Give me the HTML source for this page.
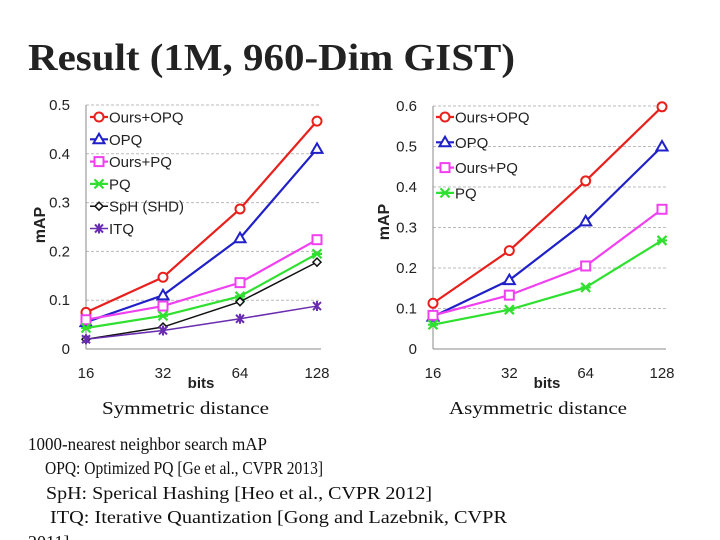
<!DOCTYPE html>
<html><head><meta charset="utf-8"><style>
html,body{margin:0;padding:0;background:#fff;}
svg{display:block}
</style></head><body>
<svg id="s" width="720" height="540" viewBox="0 0 720 540" xmlns="http://www.w3.org/2000/svg">
<text x="28" y="70" font-family="Liberation Serif, serif" font-weight="bold" font-size="38" fill="#222" textLength="487" lengthAdjust="spacingAndGlyphs">Result (1M, 960-Dim GIST)</text>
<g font-family="Liberation Serif, serif" font-size="18" fill="#111">
<text x="102" y="414" textLength="167" lengthAdjust="spacingAndGlyphs">Symmetric distance</text>
<text x="449" y="414" textLength="178" lengthAdjust="spacingAndGlyphs">Asymmetric distance</text>
<text x="28" y="450" textLength="239" lengthAdjust="spacingAndGlyphs">1000-nearest neighbor search mAP</text>
<text x="45" y="474" textLength="278" lengthAdjust="spacingAndGlyphs">OPQ: Optimized PQ [Ge et al., CVPR 2013]</text>
<text x="46" y="499" textLength="386" lengthAdjust="spacingAndGlyphs">SpH: Sperical Hashing [Heo et al., CVPR 2012]</text>
<text x="50" y="523" textLength="457" lengthAdjust="spacingAndGlyphs">ITQ: Iterative Quantization [Gong and Lazebnik, CVPR</text>
<text x="28" y="548">2011]</text>
</g>
<g id="c1"></g>
<g id="c2"></g>
</svg>
<script>
const categories = ["16","32","64","128"];
const leftNames = ["Ours+OPQ","OPQ","Ours+PQ","PQ","SpH (SHD)","ITQ"];
const leftOursOPQ = [0.075,0.147,0.287,0.467];
const leftOPQ = [0.055,0.110,0.227,0.410];
const leftOursPQ = [0.060,0.088,0.136,0.224];
const leftPQ = [0.043,0.068,0.108,0.195];
const leftSpH = [0.020,0.045,0.097,0.178];
const leftITQ = [0.020,0.038,0.062,0.088];
const leftTicks = ["0","0.1","0.2","0.3","0.4","0.5"];
const rightNames = ["Ours+OPQ","OPQ","Ours+PQ","PQ"];
const rightOursOPQ = [0.113,0.243,0.415,0.598];
const rightOPQ = [0.080,0.170,0.315,0.500];
const rightOursPQ = [0.083,0.133,0.205,0.345];
const rightPQ = [0.060,0.097,0.152,0.268];
const rightTicks = ["0","0.1","0.2","0.3","0.4","0.5","0.6"];

const NS="http://www.w3.org/2000/svg";
function mk(p,tag,at){const e=document.createElementNS(NS,tag);for(const k in at)e.setAttribute(k,at[k]);p.appendChild(e);return e;}
const styles={
 "Ours+OPQ":{c:"#e8201c",m:"circle"},"OPQ":{c:"#2020c8",m:"tri"},"Ours+PQ":{c:"#f040f0",m:"square"},
 "PQ":{c:"#30e030",m:"x"},"SpH (SHD)":{c:"#111",m:"diamond",w:1.5},"ITQ":{c:"#6a2cb0",m:"star",w:1.5}};
function marker(g,m,x,y,c){
 let e;
 if(m==="circle")e=mk(g,"circle",{cx:x,cy:y,r:4.5,fill:"#fff",stroke:c,"stroke-width":2});
 else if(m==="tri")e=mk(g,"polygon",{points:`${x},${y-5.5} ${x+5.5},${y+4} ${x-5.5},${y+4}`,fill:"#fff",stroke:c,"stroke-width":2});
 else if(m==="square")e=mk(g,"rect",{x:x-4.5,y:y-4.5,width:9,height:9,fill:"#fff",stroke:c,"stroke-width":2});
 else if(m==="diamond")e=mk(g,"polygon",{points:`${x},${y-4} ${x+4},${y} ${x},${y+4} ${x-4},${y}`,fill:"#fff",stroke:c,"stroke-width":1.5});
 else if(m==="x")e=mk(g,"path",{d:`M${x-4.5},${y-4.5}L${x+4.5},${y+4.5}M${x-4.5},${y+4.5}L${x+4.5},${y-4.5}M${x-5},${y}L${x+5},${y}`,stroke:c,"stroke-width":2.2,fill:"none"});
 else e=mk(g,"path",{d:`M${x-4},${y-4}L${x+4},${y+4}M${x-4},${y+4}L${x+4},${y-4}M${x},${y-5}L${x},${y+5}`,stroke:c,"stroke-width":2,fill:"none"});
 
 
}
function chart(g,cfg){
 const yS=v=>cfg.y0-(v/cfg.ymax)*(cfg.y0-cfg.ytop);
 const xS=i=>cfg.x0+i*(cfg.x1-cfg.x0)/(categories.length-1);
 cfg.ticks.forEach((t,i)=>{
  const v=parseFloat(t), y=yS(v);
  if(v>0){const l=mk(g,"line",{x1:cfg.x0,x2:cfg.x1+4,y1:y,y2:y,stroke:"#bbb","stroke-dasharray":"3,2","stroke-width":1});
   }
  const tx=mk(g,"text",{x:cfg.x0-16,y:y+5,"text-anchor":"end","font-family":"Liberation Sans, sans-serif","font-size":15,fill:"#222"});
  tx.textContent=t;
  
 });
 const ax=mk(g,"line",{x1:cfg.x0,x2:cfg.x0,y1:cfg.ytop,y2:cfg.y0,stroke:"#888","stroke-width":1});
 
 const bx=mk(g,"line",{x1:cfg.x0,x2:cfg.x1+4,y1:cfg.y0,y2:cfg.y0,stroke:"#888","stroke-width":1});
 
 categories.forEach((c,i)=>{
  const t=mk(g,"text",{x:xS(i),y:cfg.y0+29,"text-anchor":"middle","font-family":"Liberation Sans, sans-serif","font-size":15,fill:"#222"});
  t.textContent=c;
 });
 const xt=mk(g,"text",{x:cfg.bitsX,y:cfg.y0+39,"text-anchor":"middle","font-family":"Liberation Sans, sans-serif","font-size":15,"font-weight":"bold",fill:"#222"});
 xt.textContent="bits";
 const yt=mk(g,"text",{x:0,y:0,transform:`translate(${cfg.mapX},${cfg.mapY}) rotate(-90)`,"text-anchor":"middle","font-family":"Liberation Sans, sans-serif","font-size":16,"font-weight":"bold",fill:"#222"});
 yt.textContent="mAP";
 cfg.series.forEach((vals,si)=>{
  const name=cfg.names[si], st=styles[name];
  const sg=mk(g,"g",{});
  
  
  const pl=mk(sg,"polyline",{points:vals.map((v,i)=>xS(i)+","+yS(v)).join(" "),fill:"none",stroke:st.c,"stroke-width":st.w||2.2});
  
  vals.forEach((v,i)=>marker(sg,st.m,xS(i),yS(v),st.c));
  const ly=cfg.legY+si*cfg.legDy, lx=cfg.legX;
  const lg=mk(g,"g",{});
  
  mk(lg,"line",{x1:lx,x2:lx+18,y1:ly,y2:ly,stroke:st.c,"stroke-width":st.w||2.2});
  marker(lg,st.m,lx+9,ly,st.c);
  const lt=mk(lg,"text",{x:lx+19,y:ly+5.5,"font-family":"Liberation Sans, sans-serif","font-size":15,fill:"#222"});
  lt.textContent=name;
 });
}
chart(document.getElementById("c1"),{x0:86,x1:317,y0:349,ytop:105,ymax:0.5,ticks:leftTicks,names:leftNames,
 series:[leftOursOPQ,leftOPQ,leftOursPQ,leftPQ,leftSpH,leftITQ],legX:90,legY:117,legDy:22.3,bitsX:201,mapX:45,mapY:225});
chart(document.getElementById("c2"),{x0:433,x1:662,y0:349,ytop:106,ymax:0.6,ticks:rightTicks,names:rightNames,
 series:[rightOursOPQ,rightOPQ,rightOursPQ,rightPQ],legX:436,legY:117,legDy:25.3,bitsX:547,mapX:389,mapY:222});
</script>
</body></html>
